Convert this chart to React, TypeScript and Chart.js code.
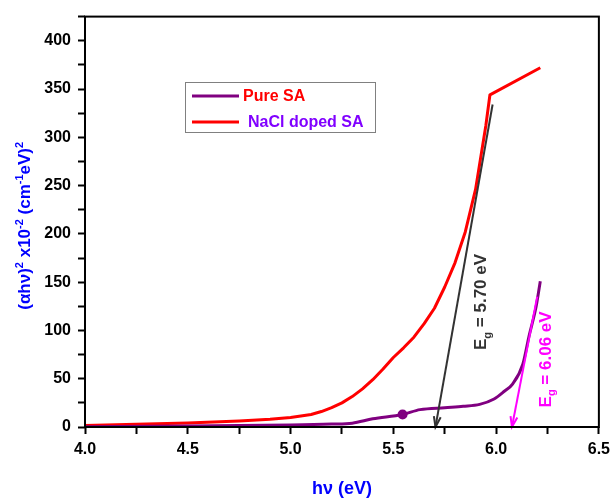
import React, { useEffect, useRef } from "react";
import { Chart, registerables } from "chart.js";

Chart.register(...registerables);

// ---- data ----
const pureEnergy = [4.0, 4.5, 5.0, 5.2, 5.3, 5.4, 5.545, 5.63, 5.75, 5.84, 5.92, 5.99, 6.04, 6.08, 6.13, 6.16, 6.195, 6.215];
const pureValues = [0.3, 1, 2, 3, 4, 8.5, 13, 18, 20, 21.4, 23.4, 29, 37, 44.5, 65, 94, 125, 151];
const dopedEnergy = [4.0, 4.25, 4.5, 4.75, 4.9, 5.0, 5.1, 5.15, 5.2, 5.25, 5.3, 5.35, 5.4, 5.45, 5.5, 5.55, 5.6, 5.65, 5.7, 5.75, 5.8, 5.85, 5.9, 5.95, 5.97, 6.215];
const dopedValues = [1.5, 2.8, 4.2, 6.3, 8.0, 9.8, 13, 16, 20, 25, 31.5, 39.5, 49, 60, 72, 82, 93, 107, 123, 145, 170, 202, 246, 312, 344, 372];
const seriesLabels = ["Pure SA", "NaCl doped SA"];
const seriesColors = ["#800080", "#ff0000"];
const legendTextColors = ["#ff0000", "#8000ff"];
const markerEnergy = 5.545;

const tangentDopedX = [5.983, 5.705];
const tangentDopedY = [334, 0];
const tangentPureX = [6.2, 6.077];
const tangentPureY = [135, 0];
const tangentColors = ["#333333", "#ff00ff"];
const gapValues = ["5.70 eV", "6.06 eV"];
const gapLabelX = [5.921, 6.236];
const gapLabelY = [129.5, 70];

const xMin = 4.0, xMax = 6.5, xStep = 0.25;
const yMin = 0, yMax = 425, yStep = 25;

const FONT = '"Liberation Sans", Arial, sans-serif';

type Seg = { t: string; k?: "sup" | "sub" };

function drawRich(ctx: CanvasRenderingContext2D, segs: Seg[], cx: number, cy: number, angle: number, size: number, color: string) {
  const small = Math.round(size * 0.65);
  const fontFor = (s: Seg) => `bold ${s.k ? small : size}px ${FONT}`;
  let total = 0;
  const widths = segs.map((s) => {
    ctx.font = fontFor(s);
    const w = ctx.measureText(s.t).width;
    total += w;
    return w;
  });
  ctx.save();
  ctx.translate(cx, cy);
  ctx.rotate(angle);
  ctx.fillStyle = color;
  ctx.textBaseline = "alphabetic";
  ctx.textAlign = "left";
  let x = -total / 2;
  const base = size * 0.36;
  segs.forEach((s, i) => {
    ctx.font = fontFor(s);
    const dy = s.k === "sup" ? -size * 0.42 : s.k === "sub" ? size * 0.28 : 0;
    ctx.fillText(s.t, x, base + dy);
    x += widths[i];
  });
  ctx.restore();
}

function arrowHead(ctx: CanvasRenderingContext2D, x0: number, y0: number, x1: number, y1: number, color: string) {
  const ang = Math.atan2(y1 - y0, x1 - x0);
  const len = 11, spread = 0.32;
  ctx.save();
  ctx.strokeStyle = color;
  ctx.lineWidth = 2;
  ctx.beginPath();
  ctx.moveTo(x1 - len * Math.cos(ang - spread), y1 - len * Math.sin(ang - spread));
  ctx.lineTo(x1, y1);
  ctx.lineTo(x1 - len * Math.cos(ang + spread), y1 - len * Math.sin(ang + spread));
  ctx.stroke();
  ctx.restore();
}

const decorPlugin = {
  id: "decor",
  afterDatasetsDraw(chart: any) {
    const ctx: CanvasRenderingContext2D = chart.ctx;
    const xs = chart.scales.x, ys = chart.scales.y;
    const a = chart.chartArea;

    // arrowheads
    const tx = [tangentDopedX, tangentPureX], ty = [tangentDopedY, tangentPureY];
    for (let i = 0; i < 2; i++) {
      arrowHead(ctx, xs.getPixelForValue(tx[i][0]), ys.getPixelForValue(ty[i][0]),
        xs.getPixelForValue(tx[i][1]), ys.getPixelForValue(ty[i][1]), tangentColors[i]);
    }

    // gap labels
    for (let i = 0; i < 2; i++) {
      drawRich(ctx, [{ t: "E" }, { t: "g", k: "sub" }, { t: " = " + gapValues[i] }],
        xs.getPixelForValue(gapLabelX[i]), ys.getPixelForValue(gapLabelY[i]), -Math.PI / 2, 17, tangentColors[i]);
    }

    // frame
    ctx.save();
    ctx.strokeStyle = "#000";
    ctx.lineWidth = 2;
    ctx.strokeRect(a.left, a.top, a.right - a.left, a.bottom - a.top);
    ctx.restore();

    // legend
    ctx.save();
    ctx.strokeStyle = "#808080";
    ctx.lineWidth = 1;
    ctx.strokeRect(185.5, 82.5, 190, 50);
    const rows = [96, 122];
    const textX = [243, 248];
    for (let i = 0; i < 2; i++) {
      ctx.strokeStyle = seriesColors[i];
      ctx.lineWidth = 3;
      ctx.beginPath();
      ctx.moveTo(192, rows[i]);
      ctx.lineTo(239, rows[i]);
      ctx.stroke();
      ctx.fillStyle = legendTextColors[i];
      ctx.font = `bold 16px ${FONT}`;
      ctx.textBaseline = "middle";
      ctx.textAlign = "left";
      ctx.fillText(seriesLabels[i], textX[i], rows[i] + 1);
    }
    ctx.restore();

    // axis titles
    drawRich(ctx, [{ t: "h\u03BD (eV)" }], (a.left + a.right) / 2, 488, 0, 18, "#0000ff");
    drawRich(ctx, [
      { t: "(\u03B1h\u03BD)" }, { t: "2", k: "sup" }, { t: " x10" }, { t: "-2", k: "sup" },
      { t: " (cm" }, { t: "-1", k: "sup" }, { t: "eV)" }, { t: "2", k: "sup" },
    ], 24, (a.top + a.bottom) / 2 + 4, -Math.PI / 2, 17, "#0000ff");
  },
};

const pts = (xs: number[], ys: number[]) => xs.map((x, i) => ({ x, y: ys[i] }));

export default function App() {
  const ref = useRef<HTMLCanvasElement>(null);
  useEffect(() => {
    if (!ref.current) return;
    const chart = new Chart(ref.current, {
      type: "line",
      data: {
        datasets: [
          {
            label: "tangent1",
            data: pts(tangentDopedX, tangentDopedY),
            borderColor: tangentColors[0],
            borderWidth: 2,
            pointRadius: 0,
            tension: 0,
          },
          {
            label: "tangent2",
            data: pts(tangentPureX, tangentPureY),
            borderColor: tangentColors[1],
            borderWidth: 2,
            pointRadius: 0,
            tension: 0,
          },
          {
            label: seriesLabels[0],
            data: pts(pureEnergy, pureValues),
            borderColor: seriesColors[0],
            backgroundColor: seriesColors[0],
            borderWidth: 3,
            pointRadius: (c: any) => (c.raw && c.raw.x === markerEnergy ? 5 : 0),
            pointBorderWidth: 0,
            cubicInterpolationMode: "monotone",
          },
          {
            label: seriesLabels[1],
            data: pts(dopedEnergy, dopedValues),
            borderColor: seriesColors[1],
            borderWidth: 3,
            pointRadius: 0,
            tension: 0,
            borderJoinStyle: "round",
          },
        ],
      },
      options: {
        animation: false,
        responsive: false,
        maintainAspectRatio: false,
        layout: { padding: { top: 10, right: 13, left: 0, bottom: 0 } },
        plugins: { legend: { display: false }, tooltip: { enabled: false } },
        scales: {
          x: {
            type: "linear",
            min: xMin,
            max: xMax,
            afterFit: (s: any) => { s.height = 73; },
            border: { display: false },
            grid: { drawOnChartArea: false, drawTicks: true, tickLength: 7, tickWidth: 2, tickColor: "#000" },
            ticks: {
              stepSize: xStep,
              autoSkip: false,
              maxRotation: 0,
              padding: 6,
              color: "#000",
              font: { family: FONT, size: 16, weight: "bold" },
              callback: (v: any) => (Math.abs(v * 2 - Math.round(v * 2)) < 1e-6 ? Number(v).toFixed(1) : ""),
            },
          },
          y: {
            min: yMin,
            max: yMax,
            afterFit: (s: any) => { s.width = 85; },
            border: { display: false },
            grid: { drawOnChartArea: false, drawTicks: true, tickLength: 7, tickWidth: 2, tickColor: "#000" },
            ticks: {
              stepSize: yStep,
              autoSkip: false,
              padding: 7,
              color: "#000",
              font: { family: FONT, size: 16, weight: "bold" },
              callback: (v: any) => (v % 50 === 0 ? String(v) : ""),
            },
          },
        },
      },
      plugins: [decorPlugin],
    } as any);
    return () => chart.destroy();
  }, []);
  return (
    <div style={{ position: "fixed", left: 0, top: 0, width: 616, height: 500, background: "#fff" }}>
      <canvas ref={ref} width={616} height={500} style={{ width: 616, height: 500, display: "block" }} />
    </div>
  );
}
